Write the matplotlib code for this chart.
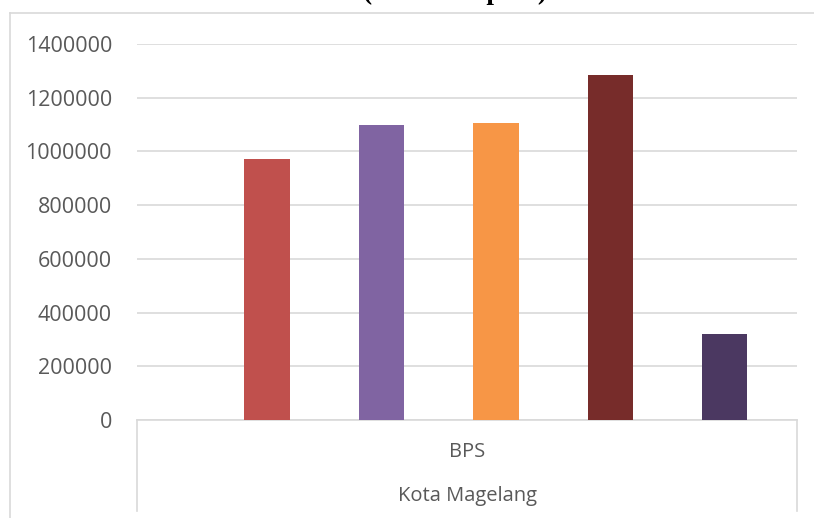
import matplotlib.pyplot as plt
from matplotlib.lines import Line2D
import numpy as np

# Values (Rupiah)
region = "Kota Magelang"
source = "BPS"
values = [970000, 1100000, 1107000, 1285000, 320000]
colors = ['#C0504D', '#8064A2', '#F79646', '#772C2A', '#4B3861']
yticks = [0, 200000, 400000, 600000, 800000, 1000000, 1200000, 1400000]

W, H = 814, 518
fig = plt.figure(figsize=(W / 100, H / 100), dpi=100)

# plot area in pixels: x 137..797, y 44..420
ax = fig.add_axes([137 / W, (H - 420) / H, 660 / W, 376 / H])
x = np.arange(len(values))
ax.bar(x, values, width=0.395, color=colors, zorder=3)

ax.set_ylim(0, 1400000)
ax.set_xlim(-1.135, 4.63)
ax.set_yticks(yticks)
ax.set_yticklabels([str(v) for v in yticks], fontsize=15.5,
                   color='#595959', family='Open Sans')
ax.set_xticks([])
ax.tick_params(axis='y', length=0, pad=18)
ax.grid(axis='y', color='#D9D9D9', linewidth=1.2, zorder=0)
for s in ['top', 'right', 'left']:
    ax.spines[s].set_visible(False)
ax.spines['bottom'].set_color('#D9D9D9')
ax.spines['bottom'].set_linewidth(1.2)

# category box below the axis
def px_line(xs, ys):
    fig.add_artist(Line2D([v / W for v in xs], [1 - v / H for v in ys],
                          color='#D9D9D9', linewidth=1.2))

px_line([137, 137], [420, 511])
px_line([797, 797], [420, 511])
# outer chart frame
px_line([10, 10], [13, 520])
px_line([10, 820], [13, 13])

fig.text(467 / W, 1 - 452 / H, source, ha='center', va='center',
         fontsize=14.5, color='#595959', family='Open Sans')
fig.text(467 / W, 1 - 496 / H, region, ha='center', va='center',
         fontsize=14.5, color='#595959', family='Open Sans')

# title, cut off at the top of the image (only descenders show)
fig.text(455 / W, 1 + 1 / H, "(dalam Rupiah)", ha='center', va='baseline',
         fontsize=19.6, fontweight='bold', family='Liberation Serif',
         color='black')

fig.savefig('out.png', dpi=100)
